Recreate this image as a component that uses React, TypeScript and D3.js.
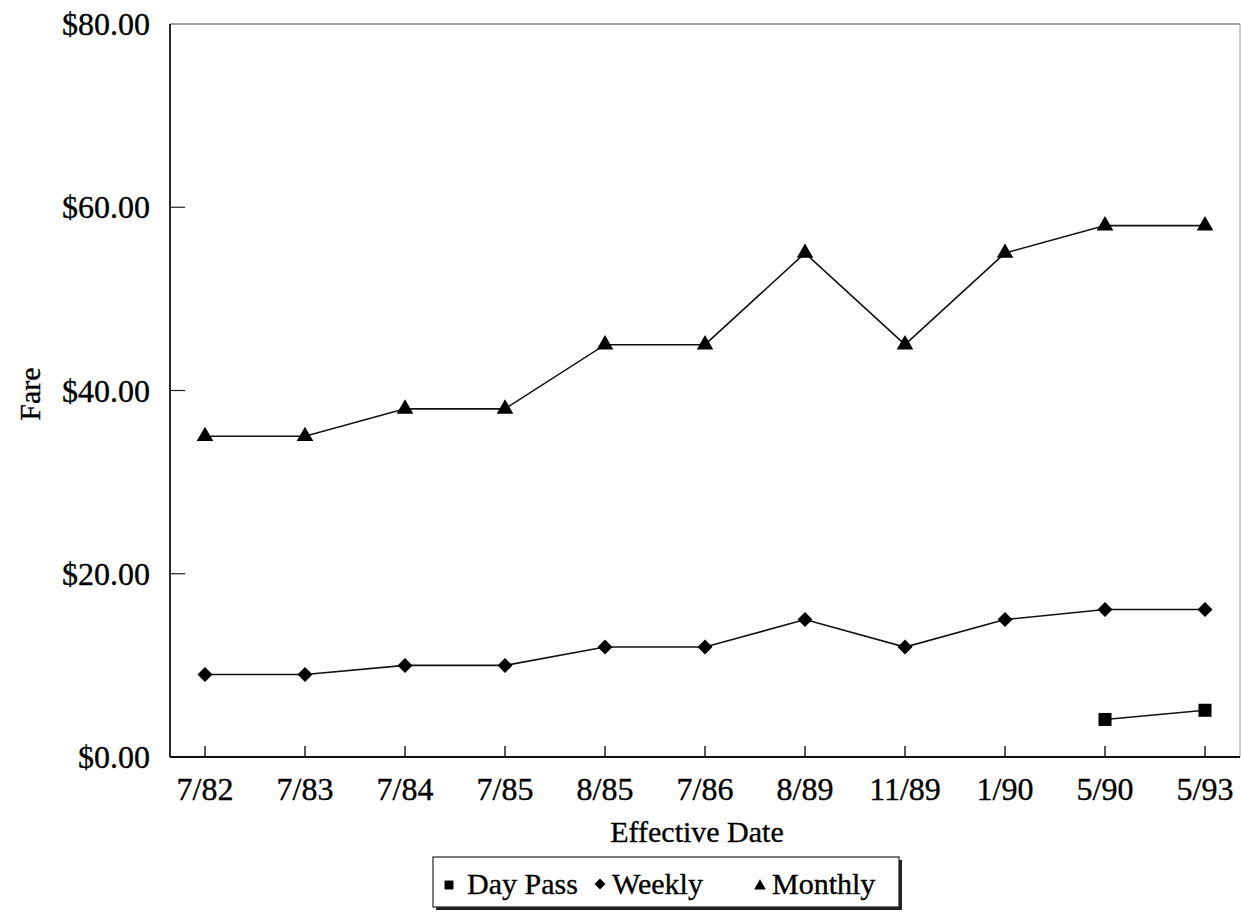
import React from "react";
import * as d3 from "d3";

const dates = ["7/82", "7/83", "7/84", "7/85", "8/85", "7/86", "8/89", "11/89", "1/90", "5/90", "5/93"];
const monthly = [35, 35, 38, 38, 45, 45, 55, 45, 55, 58, 58];
const weekly = [9, 9, 10, 10, 12, 12, 15, 12, 15, 16.1, 16.1];
const dayPass: (number | null)[] = [null, null, null, null, null, null, null, null, null, 4.1, 5.1];
const yTicks = [0, 20, 40, 60, 80];

const W = 1241, H = 912;
const L = 170, R = 1240, T = 24, B = 757;
const FONT = "'Liberation Serif', 'Times New Roman', serif";

function diamond(r: number) {
  return `M0,${-r}L${r},0L0,${r}L${-r},0Z`;
}

export default function App() {
  const x = d3.scalePoint<string>().domain(dates).range([L, R]).padding(0.35);
  const y = d3.scaleLinear().domain([0, 80]).range([B, T]);
  const line = d3.line<[string, number | null]>()
    .defined((d) => d[1] !== null)
    .x((d) => x(d[0]) as number)
    .y((d) => y(d[1] as number));

  const tri = d3.symbol().type(d3.symbolTriangle).size(120)();
  const sq = d3.symbol().type(d3.symbolSquare).size(170)();
  const dia = diamond(7.5);
  const triS = d3.symbol().type(d3.symbolTriangle).size(60)();
  const sqS = d3.symbol().type(d3.symbolSquare).size(80)();
  const diaS = diamond(5.5);

  const series = [
    { vals: monthly, path: tri },
    { vals: weekly, path: dia },
    { vals: dayPass, path: sq },
  ];

  const textStyle = { stroke: "#000", strokeWidth: 0.35 } as const;

  return (
    <svg width={W} height={H} style={{ position: "absolute", left: 0, top: 0, background: "#fff" }} fontFamily={FONT}>
      <rect x={0} y={0} width={W} height={H} fill="#fff" />
      {/* frame */}
      <line x1={L} y1={T} x2={R} y2={T} stroke="#444" strokeWidth={1} />
      <line x1={R} y1={T} x2={R} y2={B} stroke="#999" strokeWidth={1} />
      <line x1={L} y1={T} x2={L} y2={B} stroke="#111" strokeWidth={1.8} />
      <line x1={L} y1={B} x2={R} y2={B} stroke="#111" strokeWidth={1.8} />
      {/* y ticks */}
      {yTicks.map((t) => (
        <g key={t}>
          {t > 0 && t < 80 && <line x1={L} x2={L + 15} y1={y(t)} y2={y(t)} stroke="#222" strokeWidth={1.2} />}
          <text x={150} y={y(t)} dy="0.35em" textAnchor="end" fontSize={32} fill="#000" style={textStyle}>
            {"$" + t.toFixed(2)}
          </text>
        </g>
      ))}
      {/* x ticks */}
      {dates.map((d) => (
        <g key={d}>
          <line x1={x(d)} x2={x(d)} y1={B} y2={B - 11} stroke="#222" strokeWidth={1.5} />
          <text x={x(d)} y={800} textAnchor="middle" fontSize={32} fill="#000" style={textStyle}>{d}</text>
        </g>
      ))}
      <text x={(L + R) / 2 - 8} y={842} textAnchor="middle" fontSize={30} fill="#000" style={textStyle}>Effective Date</text>
      <text transform={`translate(40,${394}) rotate(-90)`} textAnchor="middle" fontSize={30} fill="#000" style={textStyle}>Fare</text>
      {/* lines */}
      {series.map((s, i) => (
        <g key={i}>
          <path d={line(dates.map((d, j) => [d, s.vals[j]]) as [string, number | null][]) || ""} fill="none" stroke="#111" strokeWidth={1.6} />
          {dates.map((d, j) =>
            s.vals[j] === null ? null : (
              <path key={j} d={s.path as string} transform={`translate(${x(d)},${y(s.vals[j] as number)})`} fill="#000" />
            )
          )}
        </g>
      ))}
      {/* legend */}
      <rect x={436} y={860} width={466} height={50} fill="#222" />
      <rect x={433} y={857} width={466} height={50} fill="#fff" stroke="#222" strokeWidth={1.2} />
      <path d={sqS as string} transform="translate(449,885)" fill="#000" />
      <text x={467} y={894} fontSize={30} fill="#000" style={textStyle}>Day Pass</text>
      <path d={diaS} transform="translate(600,884)" fill="#000" />
      <text x={612} y={894} fontSize={30} fill="#000" style={textStyle}>Weekly</text>
      <path d={triS as string} transform="translate(760,886)" fill="#000" />
      <text x={772} y={894} fontSize={30} fill="#000" style={textStyle}>Monthly</text>
    </svg>
  );
}
